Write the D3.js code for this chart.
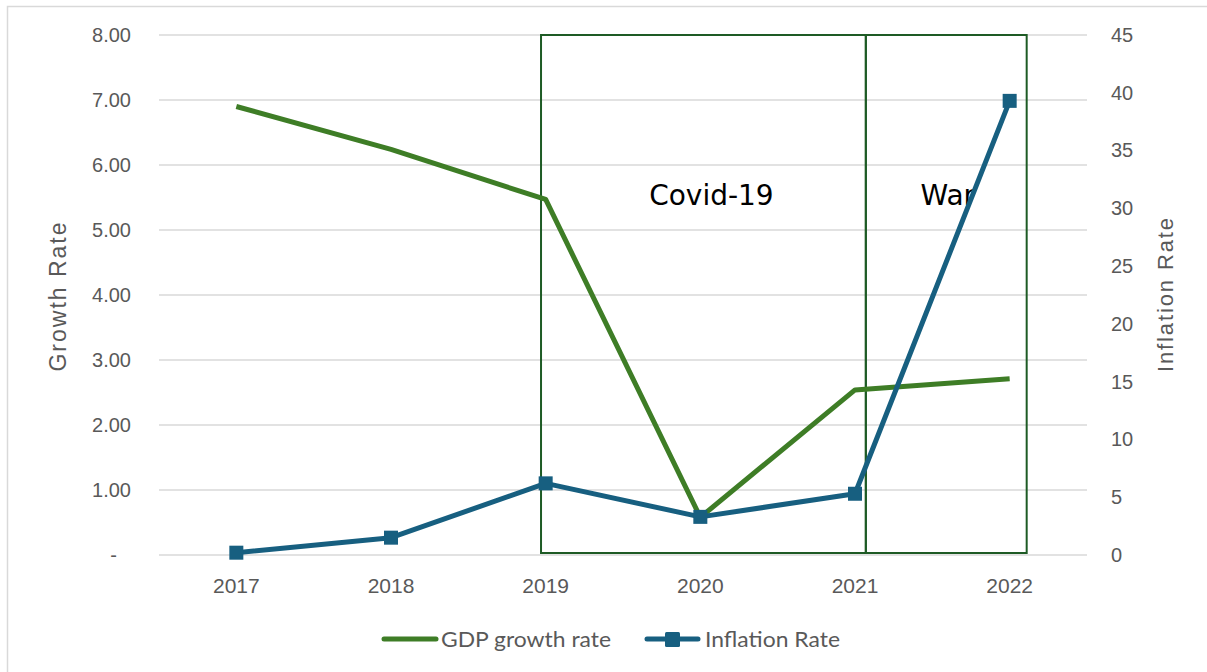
<!DOCTYPE html>
<html>
<head>
<meta charset="utf-8">
<script src="https://cdn.jsdelivr.net/npm/d3@7"></script>
<style>
  html, body { margin: 0; padding: 0; background: #fff; }
  svg { display: block; }
</style>
</head>
<body>
<svg id="chart" width="1207" height="672"></svg>
<script>
// Years on the category axis
const years = [2017, 2018, 2019, 2020, 2021, 2022];
// GDP growth rate (%), left axis
const gdpGrowth = [6.90, 6.24, 5.47, 0.58, 2.54, 2.71];
// Inflation rate (%), right axis
const inflation = [0.2, 1.5, 6.2, 3.3, 5.3, 39.3];
// Axis ticks
const leftTicks = [0, 1, 2, 3, 4, 5, 6, 7, 8];
const rightTicks = [0, 5, 10, 15, 20, 25, 30, 35, 40, 45];
// Highlighted periods (in year units on the category axis)
const periods = [
  { label: "Covid-19", from: 2018.97, to: 2021.07 },
  { label: "War",      from: 2021.07, to: 2022.11 }
];

const svg = d3.select("#chart");
const plot = { left: 159, right: 1087, top: 35, bottom: 555 };

const band = d3.scaleBand().domain(years).range([plot.left, plot.right]);
// Continuous year scale aligned with band centres, used for the period boxes
const xYear = d3.scaleLinear()
  .domain([years[0], years[years.length - 1]])
  .range([band(years[0]) + band.bandwidth() / 2, band(years[years.length - 1]) + band.bandwidth() / 2]);
const yLeft = d3.scaleLinear().domain([0, 8]).range([plot.bottom, plot.top]);
const yRight = d3.scaleLinear().domain([0, 45]).range([plot.bottom, plot.top]);

const green = "#3e7d26";
const blue = "#175f80";
const grey = "#595959";
const axisFont = "Liberation Sans, Arial, sans-serif";

// Outer chart border
svg.append("rect")
  .attr("x", 7.5).attr("y", 6.5).attr("width", 1230).attr("height", 700)
  .attr("fill", "none").attr("stroke", "#d9d9d9").attr("stroke-width", 1.5);

// Horizontal gridlines (from the left axis scale)
svg.append("g")
  .selectAll("line").data(leftTicks).join("line")
  .attr("x1", plot.left).attr("x2", plot.right)
  .attr("y1", d => yLeft(d)).attr("y2", d => yLeft(d))
  .attr("stroke", "#d9d9d9").attr("stroke-width", 1.5);

// Left axis
const leftAxis = d3.axisLeft(yLeft).tickValues(leftTicks)
  .tickFormat(d => d === 0 ? "-" : d3.format(".2f")(d)).tickSize(0).tickPadding(0);
const gL = svg.append("g").attr("transform", `translate(${131},0)`).call(leftAxis);
gL.select(".domain").remove();
gL.selectAll("text").attr("fill", grey).style("font-family", axisFont).style("font-size", "20px");
gL.selectAll(".tick").filter(d => d === 0).select("text").attr("dx", -14);

// Right axis
const rightAxis = d3.axisRight(yRight).tickValues(rightTicks).tickSize(0).tickPadding(0);
const gR = svg.append("g").attr("transform", `translate(${1111},0)`).call(rightAxis);
gR.select(".domain").remove();
gR.selectAll("text").attr("fill", grey).style("font-family", axisFont).style("font-size", "20px");

// Bottom axis
const bottomAxis = d3.axisBottom(band).tickSize(0).tickPadding(0);
const gB = svg.append("g").attr("transform", `translate(0,${578})`).call(bottomAxis);
gB.select(".domain").remove();
gB.selectAll("text").attr("fill", grey).style("font-family", axisFont).style("font-size", "21px");

// Axis titles
svg.append("text")
  .attr("transform", `translate(${66},${297}) rotate(-90)`)
  .attr("text-anchor", "middle")
  .attr("textLength", 149).attr("lengthAdjust", "spacing")
  .attr("fill", grey).style("font-family", axisFont).style("font-size", "23px")
  .text("Growth Rate");
svg.append("text")
  .attr("transform", `translate(${1173},${295}) rotate(-90)`)
  .attr("text-anchor", "middle")
  .attr("textLength", 154).attr("lengthAdjust", "spacing")
  .attr("fill", grey).style("font-family", axisFont).style("font-size", "22px")
  .text("Inflation Rate");

// Period boxes
const boxes = svg.append("g");
boxes.selectAll("rect").data(periods).join("rect")
  .attr("x", d => xYear(d.from))
  .attr("y", yLeft(8))
  .attr("width", d => xYear(d.to) - xYear(d.from))
  .attr("height", yLeft(0) - yLeft(8) - 2)
  .attr("fill", "none").attr("stroke", "#1e5b25").attr("stroke-width", 2);
boxes.selectAll("text").data(periods).join("text")
  .attr("x", d => d.label === "War" ? xYear(d.from) + 82 : (xYear(d.from) + xYear(d.to)) / 2 + 8)
  .attr("y", 205)
  .attr("text-anchor", "middle")
  .attr("fill", "#000").style("font-family", "DejaVu Sans, sans-serif").style("font-size", "28px")
  .text(d => d.label);

const xc = (d, i) => band(years[i]) + band.bandwidth() / 2;

// GDP growth line
svg.append("path").datum(gdpGrowth)
  .attr("fill", "none").attr("stroke", green).attr("stroke-width", 5).attr("stroke-linejoin", "round")
  .attr("d", d3.line().x(xc).y(d => yLeft(d)));

// Inflation line with square markers
svg.append("path").datum(inflation)
  .attr("fill", "none").attr("stroke", blue).attr("stroke-width", 5).attr("stroke-linejoin", "round")
  .attr("d", d3.line().x(xc).y(d => yRight(d)));
svg.append("g").selectAll("rect").data(inflation).join("rect")
  .attr("x", (d, i) => xc(d, i) - 7)
  .attr("y", d => yRight(d) - 7)
  .attr("width", 14).attr("height", 14)
  .attr("fill", blue);

// Legend
const legend = svg.append("g").style("font-family", "Lato, Open Sans, sans-serif").style("font-size", "22px");
legend.append("line").attr("x1", 384).attr("x2", 436).attr("y1", 639).attr("y2", 639)
  .attr("stroke", green).attr("stroke-width", 5).attr("stroke-linecap", "round");
legend.append("text").attr("x", 441).attr("y", 647).attr("fill", grey)
  .attr("textLength", 170).attr("lengthAdjust", "spacingAndGlyphs").text("GDP growth rate");
legend.append("line").attr("x1", 647).attr("x2", 698).attr("y1", 639).attr("y2", 639)
  .attr("stroke", blue).attr("stroke-width", 5).attr("stroke-linecap", "round");
legend.append("rect").attr("x", 665).attr("y", 632).attr("width", 15).attr("height", 15).attr("rx", 1.5).attr("fill", blue);
legend.append("text").attr("x", 705).attr("y", 647).attr("fill", grey)
  .attr("textLength", 135).attr("lengthAdjust", "spacingAndGlyphs").text("Inflation Rate");
</script>
</body>
</html>
